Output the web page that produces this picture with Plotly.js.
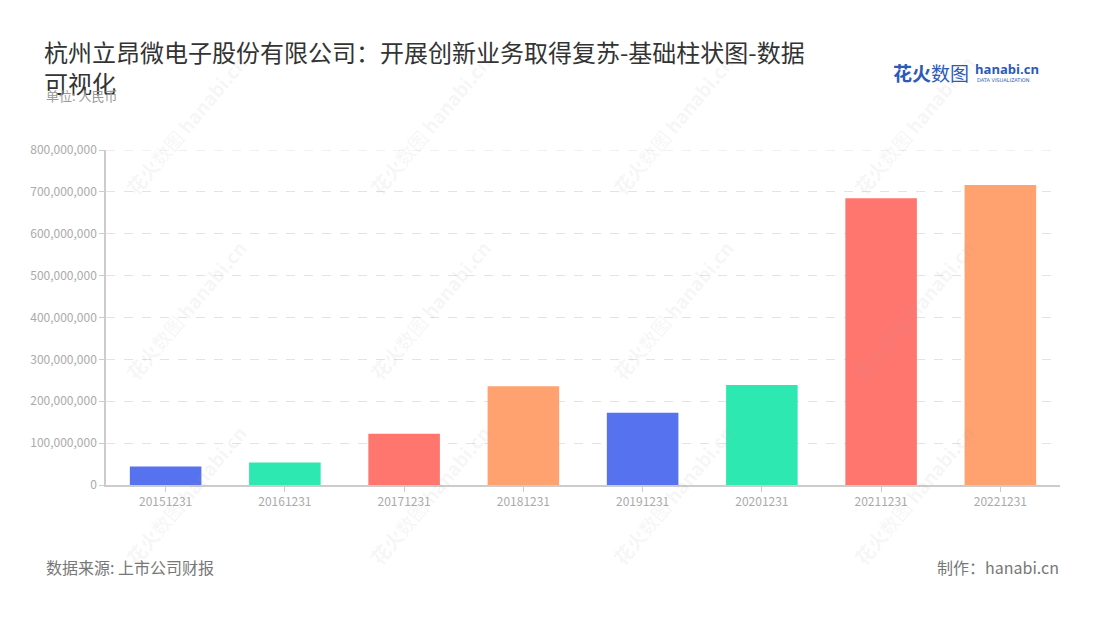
<!DOCTYPE html>
<html>
<head>
<meta charset="utf-8">
<script src="https://cdn.plot.ly/plotly-3.0.1.min.js"></script>
<style>html,body{margin:0;padding:0;background:#fff;}#chart{width:1100px;height:620px;}</style>
</head>
<body>
<div id="chart"></div>
<script>
const categories = ["20151231","20161231","20171231","20181231","20191231","20201231","20211231","20221231"];
const values = [44300000, 53800000, 122500000, 235600000, 172700000, 238800000, 684700000, 716500000];
const barColors = ["#5672EE","#2EE8B2","#FF766F","#FFA26F","#5672EE","#2EE8B2","#FF766F","#FFA26F"];
const yTicks = [0,100000000,200000000,300000000,400000000,500000000,600000000,700000000,800000000];

const FONT = "'Noto Sans CJK SC', 'Noto Sans', sans-serif";

const trace = {
  type: "bar",
  x: categories,
  y: values,
  marker: {color: barColors, line: {width: 0}},
  hoverinfo: "x+y"
};

const annotations = [];
// watermarks
const wmX = [185, 429, 672, 913];
const wmY = [125, 310, 495];
wmX.forEach(x => wmY.forEach(y => {
  annotations.push({
    xref: "paper", yref: "paper",
    x: (x - 106) / 954, y: (485 - y) / 335,
    text: "<b>花火</b>数图 <b>hanabi.cn</b>",
    showarrow: false, textangle: -50,
    font: {family: FONT, size: 19, color: "rgba(160,160,160,0.11)"},
    xanchor: "center", yanchor: "middle"
  });
}));
// subtitle
annotations.push({xref:"paper", yref:"paper", x:(44-106)/954, y:(485-96)/335, xanchor:"left", yanchor:"middle",
  text:"单位: 人民币", showarrow:false, font:{family:FONT, size:13, color:"#999"}});
// footer
annotations.push({xref:"paper", yref:"paper", x:(44-106)/954, y:(485-567)/335, xanchor:"left", yanchor:"middle",
  text:"数据来源: 上市公司财报", showarrow:false, font:{family:FONT, size:16, color:"#777"}});
annotations.push({xref:"paper", yref:"paper", x:(1061-106)/954, y:(485-567)/335, xanchor:"right", yanchor:"middle",
  text:"制作：hanabi.cn", showarrow:false, font:{family:FONT, size:16, color:"#777"}});
// logo
annotations.push({xref:"paper", yref:"paper", x:(891-106)/954, y:(485-72)/335, xanchor:"left", yanchor:"middle",
  text:"<b>花火</b>数图", showarrow:false, font:{family:FONT, size:19, color:"#2B5AB8"}});
annotations.push({xref:"paper", yref:"paper", x:(973-106)/954, y:(485-69)/335, xanchor:"left", yanchor:"middle",
  text:"<b>hanabi.cn</b>", showarrow:false, font:{family:"'Open Sans', sans-serif", size:13, color:"#2B5AB8"}});
annotations.push({xref:"paper", yref:"paper", x:(975-106)/954, y:(485-80)/335, xanchor:"left", yanchor:"middle",
  text:"DATA VISUALIZATION", showarrow:false, font:{family:"'DejaVu Sans', sans-serif", size:5, color:"#2B5AB8"}});

const layout = {
  width: 1100, height: 620,
  margin: {l: 106, r: 40, t: 150, b: 135, pad: 0},
  paper_bgcolor: "#fff", plot_bgcolor: "#fff",
  showlegend: false,
  bargap: 0.4,
  title: {
    text: "杭州立昂微电子股份有限公司：开展创新业务取得复苏-基础柱状图-数据<br>可视化",
    x: 44/1100, xanchor: "left", xref: "container",
    y: 1 - 62/620, yanchor: "top", yref: "container",
    font: {family: FONT, size: 24, color: "#333"}
  },
  xaxis: {
    type: "category",
    showline: true, linecolor: "#ccc", linewidth: 1.5,
    ticks: "outside", ticklen: 5, tickcolor: "#ccc",
    showgrid: false,
    tickfont: {family: FONT, size: 12, color: "#aaa"},
    fixedrange: true
  },
  yaxis: {
    range: [0, 800000000],
    tickvals: yTicks,
    tickformat: ",d",
    showline: true, linecolor: "#ccc", linewidth: 1.5,
    ticks: "outside", ticklen: 5, tickcolor: "#ccc",
    gridcolor: "#e3e3e3", griddash: "dash", gridwidth: 1,
    zeroline: false,
    tickfont: {family: FONT, size: 12, color: "#aaa"},
    fixedrange: true
  },
  shapes: [{type: "line", xref: "paper", yref: "y", x0: 0, x1: 1, y0: 800000000, y1: 800000000,
    line: {color: "#e3e3e3", width: 1, dash: "dash"}, layer: "below"}],
  annotations: annotations
};

Plotly.newPlot("chart", [trace], layout, {displayModeBar: false});
</script>
</body>
</html>
